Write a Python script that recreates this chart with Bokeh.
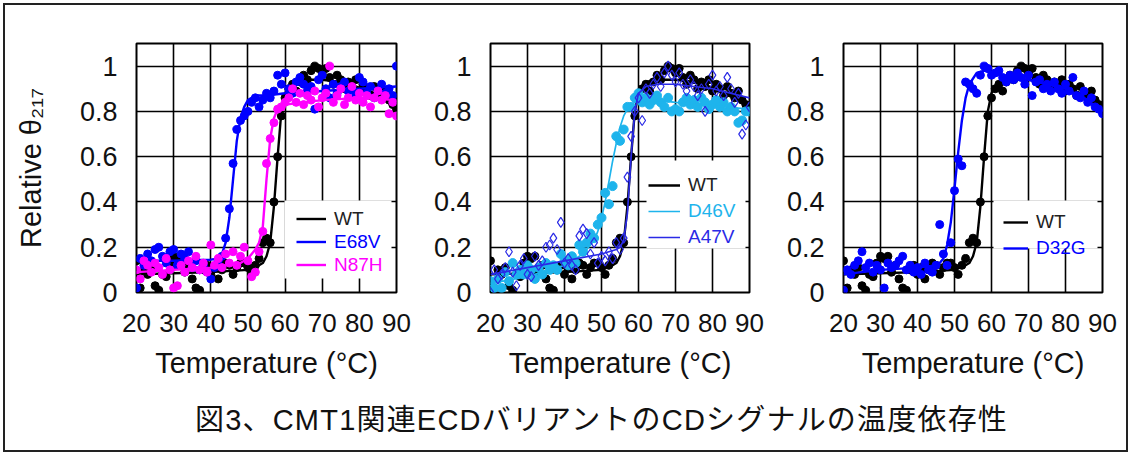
from bokeh.plotting import figure
from bokeh.models import Range1d, FixedTicker, Legend, LegendItem, BoxAnnotation, Div, NumeralTickFormatter
from bokeh.layouts import row, column
from bokeh.embed import file_html
from bokeh.resources import INLINE

# ---------------- data ----------------
temps = list(range(20, 91))

wt = [0.14, 0.02, 0.10, 0.08, 0.11, 0.03, 0.01, 0.08, 0.07, 0.13,
      0.16, 0.15, 0.16, 0.09, 0.12, 0.06, 0.02, 0.01, 0.10, 0.12,
      0.08, 0.11, 0.06, 0.10, 0.13, 0.12, 0.08, 0.11, 0.13, 0.13,
      0.11, 0.08, 0.12, 0.15, 0.22, 0.24, 0.22, 0.40, 0.60, 0.78,
      0.86, 0.90, 0.92, 0.89, 0.93, 0.96, 0.94, 0.98, 1.00, 0.99,
      0.97, 0.99, 0.95, 0.92, 0.96, 0.94, 0.90, 0.93, 0.91, 0.94,
      0.89, 0.92, 0.90, 0.87, 0.91, 0.88, 0.86, 0.89, 0.85, 0.83, 0.81]

e68v = [0.02, 0.15, 0.12, 0.17, 0.14, 0.19, 0.20, 0.16, 0.13, 0.18,
        0.19, 0.12, 0.17, 0.15, 0.18, 0.11, 0.14, 0.10, 0.12, 0.09,
        0.06, 0.11, 0.14, 0.16, 0.24, 0.37, 0.57, 0.72, 0.76, 0.78,
        0.80, 0.84, 0.86, 0.82, 0.85, 0.88, 0.86, 0.89, 0.96, 0.92,
        0.97, 0.90, 0.88, 0.93, 0.95, 0.92, 0.89, 0.91, 0.81, 0.94,
        0.96, 0.90, 0.86, 0.92, 0.88, 0.91, 0.93, 0.89, 0.90, 0.87,
        0.95, 0.93, 0.88, 0.91, 0.86, 0.89, 0.92, 0.88, 0.90, 0.87, 1.00]

n87h = [0.10, 0.06, 0.14, 0.12, 0.09, 0.13, 0.11, 0.08, 0.15, 0.10,
        0.02, 0.03, 0.12, 0.09, 0.14, 0.11, 0.16, 0.10, 0.13, 0.09,
        0.21, 0.12, 0.15, 0.11, 0.17, 0.13, 0.18, 0.12, 0.16, 0.20,
        0.14, 0.07, 0.09, 0.18, 0.27, 0.57, 0.68, 0.75, 0.81, 0.82,
        0.84, 0.86, 0.90, 0.84, 0.88, 0.83, 0.87, 0.85, 0.89, 0.82,
        0.86, 0.88, 1.00, 0.84, 0.87, 0.90, 0.83, 0.86, 0.91, 0.85,
        0.88, 0.84, 0.87, 0.82, 0.86, 0.89, 0.85, 0.87, 0.79, 0.84, 0.78]

d46v = [0.05, 0.02, 0.06, 0.02, 0.09, 0.05, 0.13, 0.08, 0.10, 0.08,
        0.12, 0.10, 0.06, 0.11, 0.08, 0.13, 0.10, 0.12, 0.10, 0.17,
        0.14, 0.12, 0.16, 0.13, 0.21, 0.18, 0.22, 0.26, 0.24, 0.30,
        0.33, 0.44, 0.39, 0.47, 0.69, 0.67, 0.72, 0.82, 0.82, 0.86,
        0.88, 0.84, 0.86, 0.83, 0.85, 0.87, 0.84, 0.82, 0.86, 0.80,
        0.81, 0.80, 0.84, 0.86, 0.83, 0.85, 0.82, 0.86, 0.84, 0.81,
        0.83, 0.85, 0.82, 0.84, 0.80, 0.82, 0.80, 0.75, 0.76, 0.80, 0.80]

a47v = [0.00, 0.10, 0.06, 0.08, 0.11, 0.18, 0.09, 0.03, 0.12, 0.15,
        0.08, 0.07, 0.16, 0.12, 0.14, 0.20, 0.21, 0.24, 0.19, 0.31,
        0.13, 0.15, 0.12, 0.10, 0.25, 0.28, 0.26, 0.17, 0.22, 0.13,
        0.16, 0.14, 0.18, 0.15, 0.22, 0.19, 0.24, 0.51, 0.69, 0.80,
        0.86, 0.76, 0.90, 0.88, 0.92, 0.95, 0.91, 0.97, 1.00, 0.96,
        0.93, 0.97, 0.92, 0.89, 0.94, 0.91, 0.87, 0.90, 0.80, 0.92,
        0.96, 0.89, 0.91, 0.87, 0.95, 0.90, 0.84, 0.88, 0.70, 0.74, 0.82]

d32g = [0.01, 0.10, 0.08, 0.12, 0.14, 0.18, 0.11, 0.13, 0.09, 0.12,
        0.10, 0.02, 0.13, 0.11, 0.12, 0.14, 0.16, 0.10, 0.12, 0.09,
        0.11, 0.08, 0.13, 0.10, 0.09, 0.12, 0.30, 0.17, 0.12, 0.22,
        0.45, 0.59, 0.56, 0.93, 0.92, 0.90, 0.88, 0.96, 1.00, 0.99,
        0.96, 0.97, 0.98, 0.95, 0.93, 0.96, 0.94, 0.97, 0.95, 0.92,
        0.96, 0.87, 0.93, 0.94, 0.90, 0.92, 0.89, 0.93, 0.90, 0.88,
        0.92, 0.89, 0.95, 0.87, 0.86, 0.89, 0.84, 0.86, 0.82, 0.81, 0.79]

# fitted curves, read at selected temperatures
fit_t_wt = [20, 30, 40, 50, 53, 54, 55, 56, 57, 58, 59, 60, 61, 62, 65, 70, 75, 80, 85, 90]
fit_wt = [0.08, 0.085, 0.09, 0.10, 0.12, 0.13, 0.16, 0.22, 0.38, 0.60, 0.80, 0.88, 0.91, 0.93,
          0.94, 0.94, 0.93, 0.905, 0.875, 0.835]

fit_t_e68v = [20, 30, 40, 42, 43, 44, 45, 46, 47, 48, 49, 50, 52, 55, 60, 70, 80, 90]
fit_e68v = [0.14, 0.14, 0.145, 0.15, 0.17, 0.22, 0.33, 0.50, 0.67, 0.77, 0.82, 0.85, 0.87,
            0.87, 0.88, 0.89, 0.90, 0.91]

fit_t_n87h = [20, 30, 40, 48, 50, 52, 53, 54, 55, 56, 57, 58, 60, 65, 70, 80, 90]
fit_n87h = [0.09, 0.10, 0.11, 0.13, 0.15, 0.19, 0.22, 0.29, 0.50, 0.68, 0.77, 0.81, 0.83,
            0.84, 0.85, 0.86, 0.85]

fit_t_d46v = [20, 30, 40, 45, 48, 49, 50, 51, 52, 53, 54, 55, 56, 57, 58, 60, 65, 70, 80, 90]
fit_d46v = [0.04, 0.07, 0.12, 0.17, 0.23, 0.27, 0.33, 0.40, 0.49, 0.58, 0.66, 0.73, 0.78,
            0.81, 0.83, 0.85, 0.85, 0.84, 0.825, 0.81]

fit_t_a47v = [20, 30, 40, 50, 54, 55, 56, 57, 58, 59, 60, 62, 65, 70, 80, 90]
fit_a47v = [0.08, 0.11, 0.14, 0.17, 0.19, 0.20, 0.23, 0.35, 0.60, 0.80, 0.88, 0.91, 0.92,
            0.92, 0.90, 0.86]

fit_t_d32g = [20, 30, 40, 45, 46, 47, 48, 49, 50, 51, 52, 53, 54, 56, 58, 60, 65, 70, 75, 80, 85, 90]
fit_d32g = [0.08, 0.10, 0.11, 0.12, 0.13, 0.15, 0.21, 0.31, 0.46, 0.62, 0.76, 0.86, 0.92,
            0.97, 0.98, 0.97, 0.95, 0.94, 0.92, 0.90, 0.86, 0.80]

x_ticks = [20, 30, 40, 50, 60, 70, 80, 90]
y_ticks = [0, 0.2, 0.4, 0.6, 0.8, 1]
title_text = "図3、CMT1関連ECDバリアントのCDシグナルの温度依存性"
x_label = "Temperature (°C)"
y_label = "Relative θ₂₁₇"

BLACK = "#000000"
BLUE = "#0000ff"
MAGENTA = "#ff00ff"
LIGHTBLUE = "#1eb4ec"
DBLUE = "#2a2ae6"
FONT = "Liberation Sans"


def make_panel(border_left, frame_w, border_right, ylabel, series, legend_cfg, box_cfg):
    p = figure(frame_width=frame_w, frame_height=249,
               x_range=Range1d(20, 90), y_range=Range1d(0, 1.1),
               output_backend="svg", toolbar_location=None,
               min_border_left=border_left, min_border_right=border_right,
               min_border_top=38, min_border_bottom=98)
    p.outline_line_color = "#000000"
    p.outline_line_width = 2
    p.background_fill_color = "white"
    p.border_fill_color = None

    p.xaxis.ticker = FixedTicker(ticks=x_ticks)
    p.yaxis.ticker = FixedTicker(ticks=y_ticks)
    p.yaxis.formatter = NumeralTickFormatter(format="0.[0]")
    for ax in (p.xaxis[0], p.yaxis[0]):
        ax.axis_line_color = None
        ax.major_tick_in = 0
        ax.major_tick_out = 0
        ax.minor_tick_in = 0
        ax.minor_tick_out = 0
        ax.major_label_text_font = FONT
        ax.major_label_text_color = "#111111"
        ax.axis_label_text_font = FONT
        ax.axis_label_text_font_size = "29px"
        ax.axis_label_text_font_style = "normal"
        ax.axis_label_text_color = "#111111"
    p.xaxis.major_label_text_font_size = "26px"
    p.yaxis.major_label_text_font_size = "27px"
    p.xaxis.major_label_standoff = 21
    p.yaxis.major_label_standoff = 19
    p.xaxis.axis_label = x_label
    p.xaxis.axis_label_standoff = 12
    if ylabel:
        p.yaxis.axis_label = y_label
        p.yaxis.axis_label_standoff = 30

    p.xgrid.ticker = FixedTicker(ticks=x_ticks)
    p.ygrid.ticker = FixedTicker(ticks=y_ticks)
    for g in (p.xgrid[0], p.ygrid[0]):
        g.grid_line_color = "#000000"
        g.grid_line_width = 1.6

    line_renderers = []
    for (name, xs, ys, fx, fy, color, tcolor, marker) in series:
        if marker == "diamond":
            p.scatter(xs, ys, marker="diamond", size=10, fill_color=None,
                      line_color=color, line_width=1.2)
        else:
            p.scatter(xs, ys, marker="circle", size=marker, fill_color=color,
                      line_color=color)
        lw = 1.7 if name in ("D46V", "A47V") else 2.4
        r = p.line(fx, fy, line_color=color, line_width=lw)
        line_renderers.append((name, r, tcolor))

    bl, br, bb, bt = box_cfg
    p.add_layout(BoxAnnotation(left=bl, right=br, bottom=bb, top=bt,
                               left_units="screen", right_units="screen",
                               bottom_units="screen", top_units="screen",
                               fill_color="white", fill_alpha=1, line_color=None))

    gx, gys, gw, step = legend_cfg
    for (name, r, tcolor), gy in zip(line_renderers, gys):
        lg = Legend(items=[LegendItem(label=name, renderers=[r])],
                    location=(gx, gy), padding=0, margin=0, spacing=0,
                    background_fill_alpha=0, border_line_color=None,
                    glyph_width=gw, glyph_height=step, label_height=step,
                    label_standoff=8, label_text_font=FONT,
                    label_text_font_size="19px", label_text_color=tcolor)
        p.add_layout(lg)
    return p


p1 = make_panel(131, 260, 20, True,
                [("WT", temps, wt, fit_t_wt, fit_wt, BLACK, "#222222", 8),
                 ("E68V", temps, e68v, fit_t_e68v, fit_e68v, BLUE, BLUE, 8),
                 ("N87H", temps, n87h, fit_t_n87h, fit_n87h, MAGENTA, MAGENTA, 8)],
                (160, [62, 39, 16], 30, 23), (148, 255, 14, 92))

p2 = make_panel(74, 259, 20, False,
                [("WT", temps, wt, fit_t_wt, fit_wt, BLACK, "#222222", 8),
                 ("D46V", temps, d46v, fit_t_d46v, fit_d46v, LIGHTBLUE, LIGHTBLUE, 9),
                 ("A47V", temps, a47v, fit_t_a47v, fit_a47v, DBLUE, DBLUE, "diamond")],
                (158, [94, 68, 42], 32, 26), (156, 255, 44, 132))

p3 = make_panel(74, 259, 24, False,
                [("WT", temps, wt, fit_t_wt, fit_wt, BLACK, "#222222", 8),
                 ("D32G", temps, d32g, fit_t_d32g, fit_d32g, BLUE, BLUE, 8)],
                (160, [57, 31], 25, 26), (150, 254, 44, 92))

title = Div(text=('<div style="white-space:nowrap;padding-left:185px;text-align:left;font-size:29px;'
                  'letter-spacing:1.2px;line-height:50px;'
                  'font-family:\'Liberation Sans\',\'Noto Sans CJK JP\';'
                  'color:#111111">' + title_text + '</div>'),
            width=1121, height=56)

layout = column(row(p1, p2, p3), title,
                styles={"border": "2px solid #222222", "margin": "3px",
                        "width": "1125px", "height": "449px",
                        "box-sizing": "border-box", "overflow": "hidden",
                        "background-color": "white"})

open("out.html", "w").write(file_html(layout, INLINE))
